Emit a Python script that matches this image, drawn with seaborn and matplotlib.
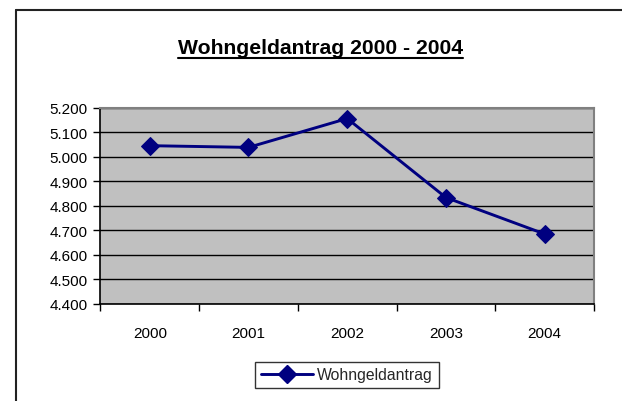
import matplotlib
matplotlib.use("Agg")
import matplotlib.pyplot as plt
import seaborn as sns
import pandas as pd
from matplotlib.lines import Line2D
from matplotlib.ticker import FixedLocator, FuncFormatter

years = ["2000", "2001", "2002", "2003", "2004"]
values = [5046, 5039, 5157, 4834, 4685]
series_name = "Wohngeldantrag"
title = "Wohngeldantrag 2000 - 2004"
y_ticks = [4400, 4500, 4600, 4700, 4800, 4900, 5000, 5100, 5200]

sns.set_theme(style="white")
plt.rcParams["font.family"] = ["Liberation Sans", "DejaVu Sans"]

df = pd.DataFrame({"Jahr": years, series_name: values})

W, H = 622, 402
fig = plt.figure(figsize=(W / 100, H / 100), dpi=100)
fig.patch.set_facecolor("white")
ax = fig.add_axes([100.4 / W, 1 - 304.7 / H, (594 - 100.4) / W, (304.7 - 109) / H])
ax.set_facecolor("#C0C0C0")

navy = "#000080"
msize = 8.7
lw = 2.1
sns.lineplot(data=df, x="Jahr", y=series_name, ax=ax, color=navy, marker="D",
             markersize=msize, markeredgecolor=navy, markerfacecolor=navy,
             linewidth=lw, label=series_name, legend=False, sort=False)

ax.set_xlim(-0.5, len(years) - 0.5)
ax.set_ylim(y_ticks[0], y_ticks[-1])
ax.yaxis.set_major_locator(FixedLocator(y_ticks))
ax.yaxis.set_major_formatter(FuncFormatter(lambda v, p: f"{v:,.0f}".replace(",", ".")))
ax.set_xticks(range(len(years)))
ax.set_xticklabels(years)
ax.xaxis.set_minor_locator(FixedLocator([i - 0.5 for i in range(len(years) + 1)]))
ax.tick_params(axis="x", which="major", length=0, pad=16, labelsize=11, colors="black")
ax.tick_params(axis="x", which="minor", bottom=True, length=5, width=1, color="black", direction="out")
ax.tick_params(axis="y", which="major", left=True, length=5, width=1, color="black",
               direction="out", pad=4, labelsize=11, labelcolor="black")
ax.set_xlabel("")
ax.set_ylabel("")

ax.yaxis.grid(True, color="black", linewidth=1)
ax.xaxis.grid(False)
ax.set_axisbelow(True)
for s in ["top", "right"]:
    ax.spines[s].set_color("#808080")
    ax.spines[s].set_linewidth(1.5)
for s in ["left", "bottom"]:
    ax.spines[s].set_color("black")
    ax.spines[s].set_linewidth(1.2)

# Legend
handle = Line2D([0], [0], color=navy, marker="D", markersize=msize, linewidth=lw,
                markerfacecolor=navy, markeredgecolor=navy)
leg = fig.legend([handle], [series_name], loc="center", bbox_to_anchor=(347 / W, 1 - 376 / H),
                 frameon=True, fancybox=False, shadow=False, fontsize=11.3, handlelength=3.3,
                 borderpad=0.35, handletextpad=0.3, borderaxespad=0)
leg.get_frame().set_edgecolor("black")
leg.get_frame().set_linewidth(1)

# Title with underline
t = fig.text(320.6 / W, 1 - 48 / H, title, ha="center", va="center",
             fontsize=15.2, fontweight="bold", color="black")
fig.canvas.draw()
bb = t.get_window_extent(renderer=fig.canvas.get_renderer())
uy = (bb.y0 - 1) / H
fig.add_artist(Line2D([bb.x0 / W, bb.x1 / W], [uy, uy], color="black", linewidth=1.5,
                      transform=fig.transFigure))

# Outer chart frame (left and top edges)
fig.add_artist(Line2D([16 / W, 16 / W], [0, 1 - 11 / H], color="#222222", linewidth=1.5,
                      transform=fig.transFigure))
fig.add_artist(Line2D([16 / W, 1], [1 - 11 / H, 1 - 11 / H], color="#222222", linewidth=1.5,
                      transform=fig.transFigure))

fig.savefig("out.png", dpi=100)
